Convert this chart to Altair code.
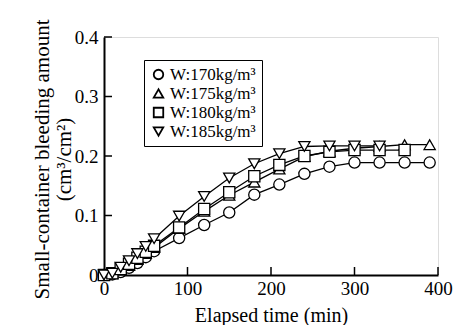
import altair as alt
import pandas as pd

times = [0, 10, 20, 30, 40, 50, 60, 90, 120, 150, 180, 210, 240, 270, 300, 330, 360, 390]
series_names = ["W:170kg/m³", "W:175kg/m³", "W:180kg/m³", "W:185kg/m³"]
w170 = [0, 0.001, 0.005, 0.012, 0.02, 0.03, 0.04, 0.062, 0.084, 0.105, 0.135, 0.152, 0.17, 0.182, 0.189, 0.189, 0.189, 0.189]
w175 = [0, 0.002, 0.008, 0.016, 0.026, 0.036, 0.046, 0.078, 0.107, 0.134, 0.156, 0.178, 0.199, 0.208, 0.213, 0.216, 0.219, 0.219]
w180 = [0, 0.003, 0.01, 0.019, 0.029, 0.039, 0.049, 0.08, 0.111, 0.139, 0.166, 0.185, 0.2, 0.207, 0.21, 0.21, 0.21]
w185 = [0, 0.003, 0.013, 0.024, 0.036, 0.048, 0.061, 0.099, 0.132, 0.163, 0.187, 0.204, 0.216, 0.217, 0.217, 0.217]
x_ticks = [0, 100, 200, 300, 400]
y_ticks = [0, 0.1, 0.2, 0.3, 0.4]
shapes = ["circle", "triangle-up", "square", "triangle-down"]

rows = []
for name, vals in zip(series_names, [w170, w175, w180, w185]):
    for t, v in zip(times, vals):
        rows.append({"t": t, "v": v, "s": name})
df = pd.DataFrame(rows)

FONT = "Liberation Serif"
W, H = 334, 238

xs = alt.Scale(domain=[0, 400], nice=False, zero=True)
ys = alt.Scale(domain=[0, 0.4], nice=False, zero=True)

xaxis = alt.Axis(values=x_ticks, ticks=False, grid=False, domainColor="black", domainWidth=2,
                 labelFont=FONT, labelFontSize=19, labelColor="black", labelPadding=4,
                 title="Elapsed time (min)", titleFont=FONT, titleFontSize=20,
                 titleFontWeight="normal", titleColor="black", titlePadding=7, labelFlush=False)
yaxis = alt.Axis(values=y_ticks, ticks=False, grid=False, domainColor="black", domainWidth=2,
                 labelFont=FONT, labelFontSize=19, labelColor="black", labelPadding=6,
                 format=".1~f",
                 title=["Small-container bleeding amount", "(cm³/cm²)"], titleFont=FONT,
                 titleFontSize=21, titleFontWeight="normal", titleColor="black",
                 titlePadding=0, titleLineHeight=22, titleY=122, labelFlush=False)

legend = alt.Legend(title=None, orient="none", legendX=40, legendY=23,
                    strokeColor="black", padding=6,
                    labelFont=FONT, labelFontSize=17, labelColor="black",
                    symbolFillColor="white", symbolStrokeWidth=1.8, symbolSize=90,
                    symbolOpacity=1, rowPadding=1, labelOffset=3, fillColor="white")

base = alt.Chart(df)
lines = base.mark_line(color="black", strokeWidth=1.3).encode(
    x=alt.X("t:Q", scale=xs, axis=xaxis),
    y=alt.Y("v:Q", scale=ys, axis=yaxis),
    detail="s:N",
)
points = base.mark_point(filled=False, fill="white", fillOpacity=1,
                         strokeWidth=1.3, size=125, opacity=1).encode(
    x=alt.X("t:Q", scale=xs),
    y=alt.Y("v:Q", scale=ys),
    shape=alt.Shape("s:N", scale=alt.Scale(domain=series_names, range=shapes), legend=legend),
    color=alt.Color("s:N", scale=alt.Scale(domain=series_names, range=["black"] * 4), legend=legend),
)

xt = pd.DataFrame({"t": x_ticks[1:]})
yt = pd.DataFrame({"v": y_ticks[1:]})
xtick = alt.Chart(xt).mark_rule(color="black", strokeWidth=1.5).encode(
    x=alt.X("t:Q", scale=xs), y=alt.value(H), y2=alt.value(H - 8))
ytick = alt.Chart(yt).mark_rule(color="black", strokeWidth=1.5).encode(
    y=alt.Y("v:Q", scale=ys), x=alt.value(0), x2=alt.value(8))

chart = alt.layer(lines, xtick, ytick, points).properties(
    width=W, height=H,
    autosize=alt.AutoSizeParams(type="none"),
    padding={"left": 96, "top": 29, "right": 20, "bottom": 50},
).configure_view(stroke=None).configure(background="white")

chart.save("out.html", embed_options={"renderer": "svg", "actions": False})
